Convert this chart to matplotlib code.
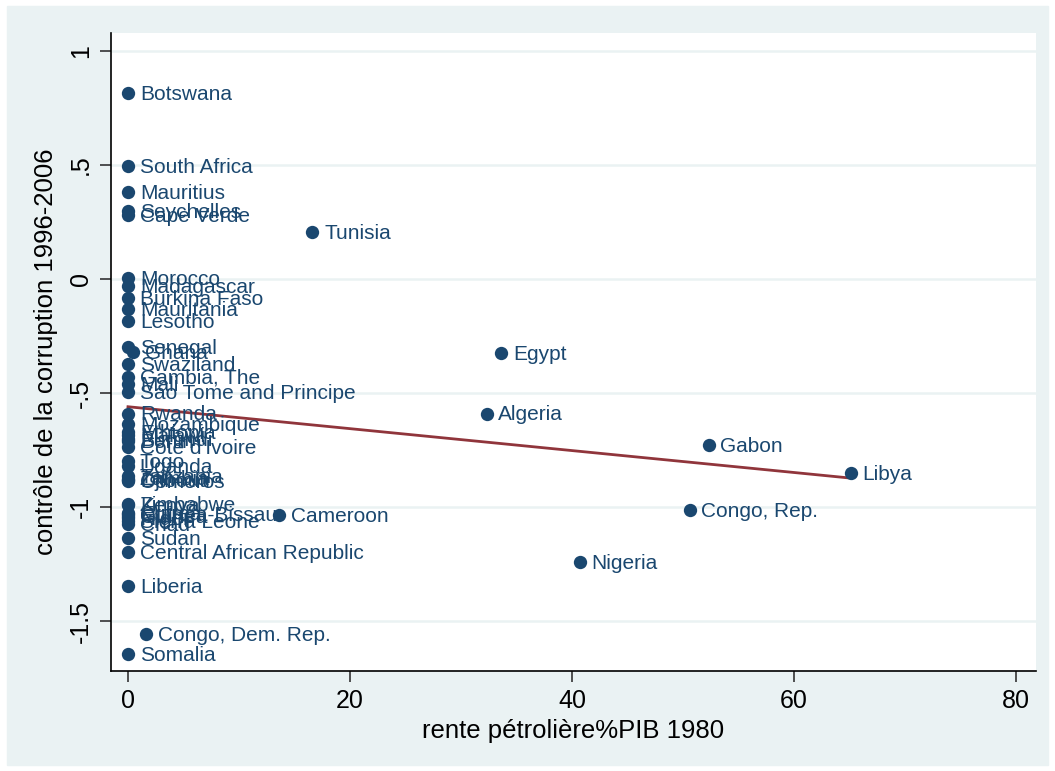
import matplotlib
matplotlib.use("Agg")
import matplotlib.pyplot as plt
import numpy as np
from matplotlib.patches import Rectangle

plt.rcParams["font.family"] = ["Liberation Sans", "DejaVu Sans"]

# données : rente pétrolière (% PIB 1980) et contrôle de la corruption 1996-2006
pays = [
    "Botswana", "South Africa", "Mauritius", "Seychelles", "Cape Verde",
    "Tunisia", "Morocco", "Madagascar", "Burkina Faso", "Mauritania",
    "Lesotho", "Senegal", "Ghana", "Egypt", "Swaziland", "Gambia, The",
    "Mali", "Sao Tome and Principe", "Algeria", "Rwanda", "Mozambique",
    "Ethiopia", "Malawi", "Burundi", "Benin", "Cote d'Ivoire", "Gabon",
    "Togo", "Uganda", "Libya", "Tanzania", "Zambia", "Djibouti", "Comoros",
    "Zimbabwe", "Kenya", "Congo, Rep.", "Eritrea", "Guinea-Bissau",
    "Cameroon", "Guinea", "Niger", "Sierra Leone", "Chad", "Sudan",
    "Central African Republic", "Nigeria", "Liberia", "Congo, Dem. Rep.",
    "Somalia",
]
rente = [
    0, 0, 0, 0, 0,
    16.6, 0, 0, 0, 0,
    0, 0, 0.45, 33.6, 0, 0,
    0, 0, 32.3, 0, 0,
    0, 0, 0, 0, 0, 52.3,
    0, 0, 65.1, 0, 0, 0, 0,
    0, 0, 50.6, 0, 0,
    13.6, 0, 0, 0, 0, 0,
    0, 40.7, 0, 1.6,
    0,
]
corruption = [
    0.816, 0.496, 0.382, 0.298, 0.28,
    0.206, 0.004, -0.03, -0.083, -0.13,
    -0.184, -0.30, -0.32, -0.325, -0.373, -0.43,
    -0.46, -0.496, -0.59, -0.59, -0.635,
    -0.67, -0.685, -0.70, -0.71, -0.735, -0.728,
    -0.80, -0.82, -0.85, -0.865, -0.875, -0.88, -0.885,
    -0.985, -0.99, -1.013, -1.025, -1.03,
    -1.035, -1.04, -1.05, -1.06, -1.075, -1.136,
    -1.197, -1.24, -1.346, -1.557,
    -1.645,
]

# droite d'ajustement (lfit)
ajust_x = [0, 65.1]
ajust_y = [-0.56, -0.873]

bleu = "#1A476F"
rouge = "#90353B"
fond = "#EAF2F3"

fig = plt.figure(figsize=(10.55, 7.71), dpi=100)
fig.add_artist(Rectangle((7 / 1055, 1 - 765 / 771), 1041 / 1055, 759 / 771,
                         transform=fig.transFigure, color=fond, zorder=-10))

ax = fig.add_axes([111 / 1055, 1 - 671 / 771, 925 / 1055, 638 / 771])
ax.set_facecolor("white")

# points et étiquettes
ax.scatter(rente, corruption, s=92, color=bleu, zorder=3, linewidths=0)
for nom, x, y in zip(pays, rente, corruption):
    ax.annotate(nom, (x, y), xytext=(8.5, -1), textcoords="offset points",
                va="center", ha="left", fontsize=15, color=bleu, zorder=4)

ax.plot(ajust_x, ajust_y, color=rouge, lw=2, zorder=2)

ax.set_xlim(-1.53, 81.8)
ax.set_ylim(-1.719, 1.079)
ax.set_xticks([0, 20, 40, 60, 80])
ax.set_yticks([-1.5, -1, -0.5, 0, 0.5, 1])
ax.set_yticklabels(["-1.5", "-1", "-.5", "0", ".5", "1"], rotation=90, va="center")
ax.tick_params(axis="both", labelsize=18, length=8, width=1.2, color="#333333", pad=5)
ax.grid(axis="y", color=fond, lw=1.8)
ax.set_axisbelow(True)
for s in ["top", "right"]:
    ax.spines[s].set_visible(False)
ax.spines["left"].set_linewidth(1.2)
ax.spines["bottom"].set_linewidth(1.2)

ax.set_xlabel("rente pétrolière%PIB 1980", fontsize=18.5, labelpad=4)
ax.set_ylabel("contrôle de la corruption 1996-2006", fontsize=18.5, labelpad=8)

fig.savefig("out.png", dpi=100)
